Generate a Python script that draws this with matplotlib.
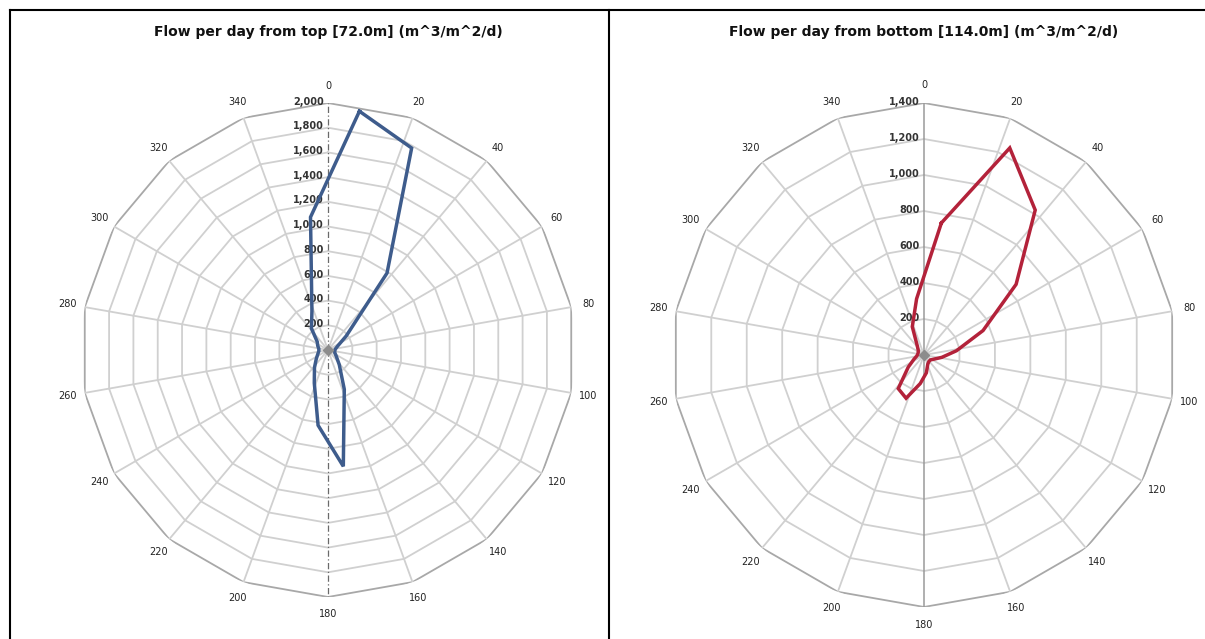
import numpy as np
import matplotlib
matplotlib.use("Agg")
import matplotlib.pyplot as plt
from matplotlib.lines import Line2D

# directions of the data points (deg, clockwise from north)
directions = [7.5, 22.5, 37.5, 52.5, 67.5, 82.5, 97.5, 112.5, 127.5, 142.5, 157.5, 172.5,
              187.5, 202.5, 217.5, 232.5, 247.5, 262.5, 277.5, 292.5, 307.5, 322.5, 337.5, 352.5]

# flow per day from top [72.0m]
top_flow = [1950, 1770, 785, 185, 85, 60, 55, 60, 85, 150, 345, 950,
            615, 290, 180, 120, 90, 75, 75, 90, 110, 220, 340, 1085]

# flow per day from bottom [114.0m]
bottom_flow = [740, 1245, 1015, 645, 355, 182, 100, 60, 45, 45, 55, 100,
               160, 260, 235, 110, 60, 40, 35, 35, 40, 60, 170, 315]

spoke_angles = list(range(0, 360, 20))
top_rings = list(range(200, 2001, 200))
bottom_rings = list(range(200, 1401, 200))

top_title = "Flow per day from top [72.0m] (m^3/m^2/d)"
bottom_title = "Flow per day from bottom [114.0m] (m^3/m^2/d)"

W, H = 1205, 639


def radar(fig, cx, cy, rad, rings, values, color, title, dashed_axis):
    ax = fig.add_axes([(cx - rad) / W, (H - cy - rad) / H, 2 * rad / W, 2 * rad / H],
                      projection="polar")
    ax.set_theta_zero_location("N")
    ax.set_theta_direction(-1)
    rmax = rings[-1]
    ax.set_ylim(0, rmax)
    ax.grid(False)
    ax.set_xticks([])
    ax.set_yticks([])
    ax.spines["polar"].set_visible(False)
    ax.patch.set_alpha(0)

    th = np.deg2rad(spoke_angles + [spoke_angles[0]])
    # polygon rings
    for r in rings:
        col = "#a8a8a8" if r == rmax else "#d0d0d0"
        ax.plot(th, [r] * len(th), color=col, lw=1.3, zorder=1)
    # spokes
    for a in spoke_angles:
        if a in (0, 180):
            continue
        ax.plot([np.deg2rad(a)] * 2, [0, rmax], color="#d0d0d0", lw=1.3, zorder=1)
    # value axis
    if dashed_axis:
        for a in (0, 180):
            ax.plot([np.deg2rad(a)] * 2, [0, rmax], color="#6a6a6a", lw=0.9,
                    ls=(0, (5, 2, 1, 2)), zorder=2)
    else:
        for a in (0, 180):
            ax.plot([np.deg2rad(a)] * 2, [0, rmax], color="#9a9a9a", lw=1.1, zorder=2)

    # angle labels
    for a in spoke_angles:
        ax.text(np.deg2rad(a), rmax * 1.07, str(a), ha="center", va="center",
                fontsize=7, color="#222222", clip_on=False)
    # value labels
    for r in rings:
        ax.annotate(f"{r:,}", xy=(0, r), xytext=(-3, 1), textcoords="offset points",
                    ha="right", va="center", fontsize=7, color="#333333",
                    fontweight="bold", annotation_clip=False)

    d = np.deg2rad(directions + [directions[0]])
    v = values + [values[0]]
    ax.plot(d, v, color=color, lw=2.5, zorder=4, solid_joinstyle="miter")
    ax.plot([0], [0], marker="D", color="#8c8c8c", ms=5, zorder=5)

    fig.text(cx / W, 1 - 32 / H, title, ha="center", va="center",
             fontsize=10, fontweight="bold", color="#111111")
    return ax


fig = plt.figure(figsize=(W / 100, H / 100), dpi=100)

radar(fig, 328, 350, 247, top_rings, top_flow, "#3e5c8c", top_title, True)
radar(fig, 924, 355, 252, bottom_rings, bottom_flow, "#b3223a", bottom_title, False)

# panel borders
fig.add_artist(Line2D([10 / W, 1], [1 - 10 / H, 1 - 10 / H], color="black", lw=1.5))
fig.add_artist(Line2D([10 / W, 10 / W], [0, 1 - 10 / H], color="black", lw=1.5))
fig.add_artist(Line2D([609 / W, 609 / W], [0, 1 - 10 / H], color="black", lw=1.5))

fig.savefig("out.png", dpi=100)
